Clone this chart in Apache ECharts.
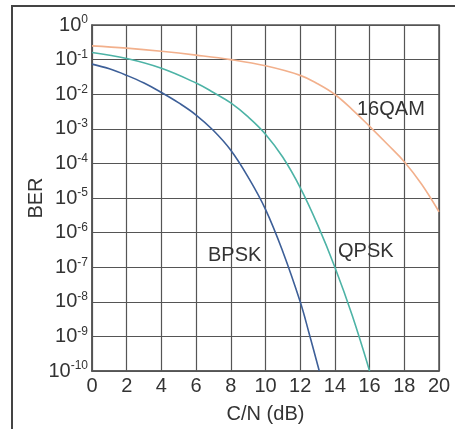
<!DOCTYPE html>
<html>
<head>
<meta charset="utf-8">
<script src="https://cdn.jsdelivr.net/npm/echarts@6/dist/echarts.min.js"></script>
<style>
  html, body { margin: 0; padding: 0; background: #fff; }
  #main { width: 455px; height: 429px; }
</style>
</head>
<body>
<div id="main"></div>
<script>
// values: [C/N dB, BER]
var bpsk = [[0, 0.074], [1, 0.054], [2, 0.035], [3, 0.021], [4, 0.0112], [5, 0.0056],
            [6, 0.0025], [7, 8.9e-4], [8, 2.4e-4], [9, 4e-5], [10, 4.7e-6], [11, 2.8e-7],
            [12, 1e-8], [12.5, 1.3e-9], [13.1, 1e-10]];
var qpsk = [[0, 0.16], [2, 0.107], [4, 0.056], [6, 0.021], [7, 0.0112], [8, 0.0056],
            [9, 0.0022], [10, 7e-4], [11, 1.5e-4], [12, 2e-5], [13, 1.7e-6], [14, 1e-7],
            [15, 4e-9], [16, 1e-10]];
var qam16 = [[0, 0.25], [2, 0.214], [4, 0.174], [6, 0.135], [8, 0.1], [10, 0.066],
             [12, 0.035], [13, 0.02], [14, 0.0098], [15, 0.0036], [16, 0.00118],
             [17, 3.7e-4], [18, 1.12e-4], [19, 2.5e-5], [20, 4e-6]];
var curveNames = ['BPSK', 'QPSK', '16QAM'];
var curveColors = ['#3d5f98', '#4db3a6', '#f2b08c'];

var myChart = echarts.init(document.getElementById('main'));

var txt = '#333';
var font = 'Liberation Sans, Arial, sans-serif';

function seriesOf(name, data, color) {
    return {
        name: name,
        type: 'line',
        data: data,
        smooth: 0.4,
        symbol: 'none',
        lineStyle: { color: color, width: 1.6 },
        z: 3
    };
}

var option = {
    backgroundColor: '#fff',
    animation: false,
    textStyle: { fontFamily: font },
    grid: {
        left: 92, right: 16, top: 25, bottom: 58,
        show: true, borderColor: '#555', borderWidth: 1.5
    },
    xAxis: {
        type: 'value',
        min: 0, max: 20, interval: 2,
        name: 'C/N (dB)',
        nameLocation: 'middle',
        nameGap: 33,
        nameTextStyle: { color: txt, fontSize: 20, fontFamily: font },
        axisLine: { lineStyle: { color: '#555', width: 1.5 } },
        axisTick: { show: false },
        axisLabel: { color: txt, fontSize: 20, margin: 5, fontFamily: font },
        splitLine: { lineStyle: { color: '#555', width: 1.2 } }
    },
    yAxis: {
        type: 'log',
        logBase: 10,
        min: 1e-10, max: 1, interval: 1,
        name: 'BER',
        nameLocation: 'middle',
        nameGap: 46,
        nameMoveOverlap: false,
        nameTextStyle: { color: txt, fontSize: 20, fontFamily: font },
        axisLine: { lineStyle: { color: '#555', width: 1.5 } },
        axisTick: { show: false },
        axisLabel: {
            margin: 4,
            formatter: function (v) {
                var e = Math.round(Math.log10(v));
                return '{b|10}{s|' + e + '}';
            },
            rich: {
                b: { fontSize: 20, color: txt, fontFamily: font, lineHeight: 22 },
                s: { fontSize: 12, color: txt, fontFamily: font, verticalAlign: 'top', lineHeight: 22, padding: [0, 0, 10, 0] }
            }
        },
        splitLine: { lineStyle: { color: '#555', width: 1.2 } }
    },
    series: [
        seriesOf(curveNames[0], bpsk, curveColors[0]),
        seriesOf(curveNames[1], qpsk, curveColors[1]),
        seriesOf(curveNames[2], qam16, curveColors[2])
    ],
    graphic: [
        { type: 'rect', shape: { x: 12, y: 6, width: 600, height: 600 },
          style: { fill: 'none', stroke: '#444', lineWidth: 2 }, z: 10 },
        { type: 'text', left: 208, top: 245, z: 10,
          style: { text: 'BPSK', fill: txt, fontSize: 20, fontFamily: font } },
        { type: 'text', left: 338, top: 241, z: 10,
          style: { text: 'QPSK', fill: txt, fontSize: 20, fontFamily: font } },
        { type: 'text', left: 357, top: 99, z: 10,
          style: { text: '16QAM', fill: txt, fontSize: 20, fontFamily: font } }
    ]
};

myChart.setOption(option);
</script>
</body>
</html>
